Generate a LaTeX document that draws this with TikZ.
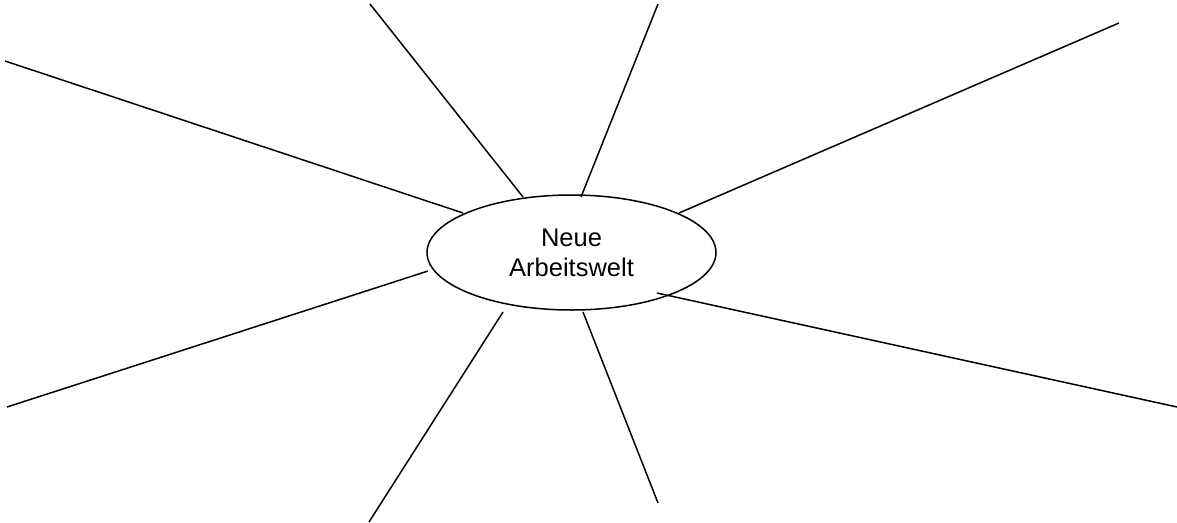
\documentclass[tikz,border=0pt]{standalone}
\usepackage{fontspec}
\setmainfont{Liberation Sans}
\usetikzlibrary{shapes.geometric}
\begin{document}
\begin{tikzpicture}[x=1pt,y=-1pt,
  spoke/.style={line width=1.5pt,black},
  hub/.style={ellipse,draw,line width=1.5pt,minimum width=289pt,minimum height=115pt,inner sep=0pt,align=center,font=\fontsize{25.5}{30}\selectfont}]
\useasboundingbox (0,0) rectangle (1177,522);
\node[hub] (c) at (571.5,252.5) {Neue\\Arbeitswelt};
% outer ends
\coordinate (o1) at (5,61);
\coordinate (o2) at (370,4);
\coordinate (o3) at (658,4);
\coordinate (o4) at (1119,23);
\coordinate (o5) at (7,407);
\coordinate (o6) at (369,522);
\coordinate (o7) at (658,503);
\coordinate (o8) at (1177,407);
% inner ends
\coordinate (i1) at (463,213);
\coordinate (i2) at (523,197);
\coordinate (i3) at (581,197);
\coordinate (i4) at (679,213);
\coordinate (i5) at (428,271);
\coordinate (i6) at (503,312);
\coordinate (i7) at (583,312);
\coordinate (i8) at (657,293);
\foreach \k in {1,...,8}{\draw[spoke] (o\k) -- (i\k);}
\end{tikzpicture}
\end{document}
